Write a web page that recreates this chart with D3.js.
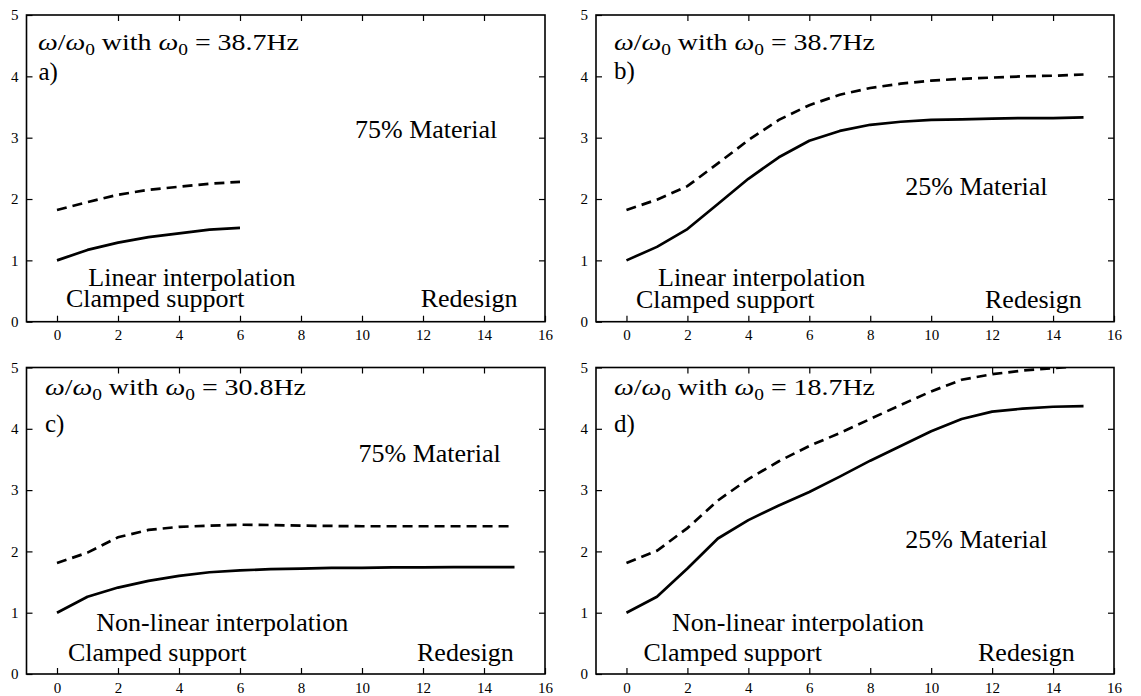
<!DOCTYPE html>
<html>
<head>
<meta charset="utf-8">
<script src="https://cdn.jsdelivr.net/npm/d3@7"></script>
<style>
  html, body { margin: 0; padding: 0; background: #fff; }
  svg { display: block; }
  text { font-family: "Liberation Serif", "Times New Roman", serif; fill: #000; }
</style>
</head>
<body>
<svg id="chart" width="1141" height="696"></svg>
<script>
// ---------------- DATA ----------------
const xTicks = [0, 2, 4, 6, 8, 10, 12, 14, 16];
const yTicks = [0, 1, 2, 3, 4, 5];

const iterA = [0, 1, 2, 3, 4, 5, 6];
const solidA = [1.00, 1.17, 1.29, 1.38, 1.44, 1.50, 1.53];
const dashedA = [1.82, 1.95, 2.07, 2.15, 2.20, 2.25, 2.28];

const iterFull = [0, 1, 2, 3, 4, 5, 6, 7, 8, 9, 10, 11, 12, 13, 14, 15];
const solidB = [1.00, 1.22, 1.51, 1.92, 2.33, 2.68, 2.95, 3.11, 3.21, 3.26, 3.29, 3.30, 3.31, 3.32, 3.32, 3.33];
const dashedB = [1.82, 1.99, 2.21, 2.58, 2.96, 3.29, 3.53, 3.70, 3.81, 3.88, 3.93, 3.96, 3.98, 4.00, 4.01, 4.03];

const solidC = [1.00, 1.26, 1.41, 1.52, 1.60, 1.66, 1.69, 1.71, 1.72, 1.73, 1.73, 1.74, 1.74, 1.745, 1.745, 1.745];
const dashedC = [1.81, 1.98, 2.23, 2.35, 2.40, 2.42, 2.435, 2.43, 2.42, 2.415, 2.41, 2.41, 2.41, 2.41, 2.41, 2.41];

const solidD = [1.00, 1.26, 1.72, 2.21, 2.51, 2.75, 2.97, 3.22, 3.48, 3.72, 3.96, 4.16, 4.28, 4.33, 4.36, 4.37];
const dashedD = [1.81, 2.01, 2.38, 2.83, 3.18, 3.47, 3.72, 3.93, 4.16, 4.39, 4.61, 4.80, 4.89, 4.95, 4.99, 5.03];

const panelIds = ["a", "b", "c", "d"];
const omega0 = ["38.7", "38.7", "30.8", "18.7"];
const materialLabels = ["75% Material", "25% Material", "75% Material", "25% Material"];
const interpLabels = ["Linear interpolation", "Linear interpolation", "Non-linear interpolation", "Non-linear interpolation"];
const supportLabel = "Clamped support";
const redesignLabel = "Redesign";

const seriesX = [iterA, iterFull, iterFull, iterFull];
const seriesSolid = [solidA, solidB, solidC, solidD];
const seriesDashed = [dashedA, dashedB, dashedC, dashedD];

// ---------------- LAYOUT (styles / positions) ----------------
const frames = [
  { left: 26.5, top: 15,    right: 545,  bottom: 321.7 },
  { left: 596,  top: 15,    right: 1114, bottom: 321.7 },
  { left: 26.5, top: 367.5, right: 545,  bottom: 674 },
  { left: 596,  top: 367.5, right: 1114, bottom: 674 }
];
// annotation positions in absolute pixels
const annPos = [
  { title: [38, 50],   id: [38.5, 80],  mat: [355, 138.3], interp: [88.3, 285.5], sup: [66, 306.7],  red: [420.7, 306.7] },
  { title: [614, 50],  id: [614, 79],   mat: [905.3, 195], interp: [658, 285.5],  sup: [636, 308],   red: [985, 308] },
  { title: [45, 395],  id: [45, 432],   mat: [358.5, 462.3], interp: [96.3, 631], sup: [68, 661],  red: [417, 661] },
  { title: [614, 395], id: [614, 432],  mat: [905.3, 547.7], interp: [672, 631], sup: [643.5, 661], red: [978, 661] }
];

const svg = d3.select("#chart");
const serif = '"Liberation Serif", "Times New Roman", serif';

panelIds.forEach((pid, i) => {
  const f = frames[i];
  const x = d3.scaleLinear().domain([-1, 16]).range([f.left, f.right]);
  const y = d3.scaleLinear().domain([0, 5]).range([f.bottom, f.top]);

  const g = svg.append("g");

  const clipId = "clip-" + pid;
  svg.append("clipPath").attr("id", clipId)
    .append("rect")
    .attr("x", f.left).attr("y", f.top)
    .attr("width", f.right - f.left).attr("height", f.bottom - f.top);

  const fmt = d3.format("d");
  const axB = d3.axisBottom(x).tickValues(xTicks).tickFormat(fmt).tickSizeInner(-6).tickSizeOuter(0).tickPadding(8);
  const axT = d3.axisTop(x).tickValues(xTicks.slice(1, -1)).tickSizeInner(-6).tickSizeOuter(0).tickFormat("");
  const axL = d3.axisLeft(y).tickValues(yTicks).tickFormat(fmt).tickSizeInner(-6).tickSizeOuter(0).tickPadding(8);
  const axR = d3.axisRight(y).tickValues(yTicks.slice(1, -1)).tickSizeInner(-6).tickSizeOuter(0).tickFormat("");

  const styleAxis = sel => {
    sel.attr("font-family", serif).attr("font-size", 15);
    sel.select(".domain").remove();
    sel.selectAll(".tick line").attr("stroke", "#000").attr("stroke-width", 1.2);
    sel.selectAll(".tick text").attr("fill", "#000");
  };

  g.append("g").attr("transform", `translate(0,${f.bottom})`).call(axB).call(styleAxis);
  g.append("g").attr("transform", `translate(0,${f.top})`).call(axT).call(styleAxis);
  g.append("g").attr("transform", `translate(${f.left},0)`).call(axL).call(styleAxis);
  g.append("g").attr("transform", `translate(${f.right},0)`).call(axR).call(styleAxis);

  g.append("rect")
    .attr("x", f.left).attr("y", f.top)
    .attr("width", f.right - f.left).attr("height", f.bottom - f.top)
    .attr("fill", "none").attr("stroke", "#000").attr("stroke-width", 1.6);

  const xs = seriesX[i];
  const line = d3.line().x(d => x(d[0])).y(d => y(d[1]));
  const solidPts = xs.map((v, k) => [v, seriesSolid[i][k]]);
  const dashPts = xs.map((v, k) => [v, seriesDashed[i][k]]);

  g.append("path").datum(solidPts)
    .attr("d", line).attr("fill", "none").attr("stroke", "#000")
    .attr("stroke-width", 2.7).attr("stroke-linejoin", "round")
    .attr("clip-path", `url(#${clipId})`);
  g.append("path").datum(dashPts)
    .attr("d", line).attr("fill", "none").attr("stroke", "#000")
    .attr("stroke-width", 2.7).attr("stroke-dasharray", "10,6")
    .attr("clip-path", `url(#${clipId})`);

  const p = annPos[i];
  const big = 26;

  const t = g.append("text").attr("x", p.title[0]).attr("y", p.title[1]).attr("font-size", 23);
  t.append("tspan").attr("font-style", "italic").text("ω");
  t.append("tspan").text("/");
  t.append("tspan").attr("font-style", "italic").text("ω");
  t.append("tspan").attr("font-size", 16).attr("dy", 5).text("0");
  t.append("tspan").attr("dy", -5).text(" with ");
  t.append("tspan").attr("font-style", "italic").text("ω");
  t.append("tspan").attr("font-size", 16).attr("dy", 5).text("0");
  t.append("tspan").attr("dy", -5).text(" = " + omega0[i] + "Hz");
  t.attr("textLength", 261).attr("lengthAdjust", "spacingAndGlyphs");

  g.append("text").attr("x", p.id[0]).attr("y", p.id[1]).attr("font-size", 25).text(pid + ")");
  g.append("text").attr("x", p.mat[0]).attr("y", p.mat[1]).attr("font-size", big).text(materialLabels[i]);
  g.append("text").attr("x", p.interp[0]).attr("y", p.interp[1]).attr("font-size", big).text(interpLabels[i]);
  g.append("text").attr("x", p.sup[0]).attr("y", p.sup[1]).attr("font-size", big).text(supportLabel);
  g.append("text").attr("x", p.red[0]).attr("y", p.red[1]).attr("font-size", big).text(redesignLabel);
});
</script>
</body>
</html>
